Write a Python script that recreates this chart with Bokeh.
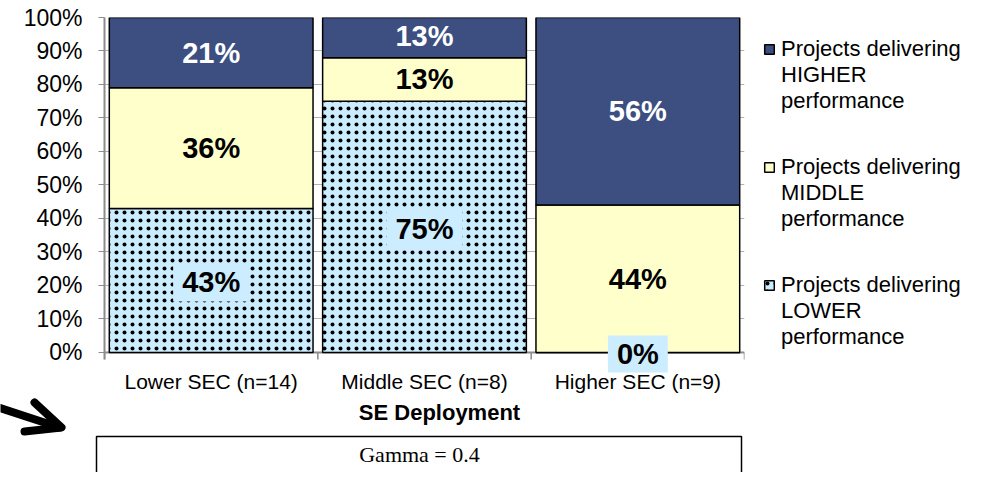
from bokeh.plotting import figure
from bokeh.layouts import column, row
from bokeh.models import (Range1d, FixedTicker, PrintfTickFormatter, Legend, LegendItem)
from bokeh.core.properties import value
from bokeh.embed import file_html
from bokeh.resources import INLINE

# ---- data ----
categories = ["Lower SEC (n=14)", "Middle SEC (n=8)", "Higher SEC (n=9)"]
lower_perf = [43, 75, 0]
middle_perf = [36, 13, 44]
higher_perf = [21, 13, 56]
legend_first = ["Projects delivering", "Projects delivering", "Projects delivering"]
legend_rest = ["HIGHER\nperformance", "MIDDLE\nperformance", "LOWER\nperformance"]
y_ticks = list(range(0, 101, 10))
x_axis_title = "SE Deployment"
gamma_text = "Gamma = 0.4"

DARK = "#3C4F80"
YELLOW = "#FFFFCC"
LIGHT = "#CCECFF"
AXIS = "#8C8C8C"
FONT = "Liberation Sans"

xs = [i + 0.5 for i in range(len(categories))]
bounds_x = list(range(len(categories) + 1))
mid_bottom = lower_perf
mid_top = [a + b for a, b in zip(lower_perf, middle_perf)]
high_top = [a + b for a, b in zip(mid_top, higher_perf)]

# ---------------- main chart ----------------
p = figure(frame_width=640, frame_height=355, min_border_left=104, min_border_right=244,
           min_border_top=17, min_border_bottom=24,
           x_range=Range1d(0, len(categories)), y_range=Range1d(-6, 100),
           output_backend="svg", toolbar_location=None)
p.outline_line_color = None
p.xgrid.visible = False
p.ygrid.grid_line_color = "#B3B3B3"
p.ygrid.grid_line_width = 1

# x axis line and boundary ticks at the 0 baseline
p.segment(x0=[0], x1=[len(categories)], y0=[0], y1=[0], line_color=AXIS, line_width=2)
p.segment(x0=bounds_x, x1=bounds_x, y0=[0] * len(bounds_x), y1=[-2.1] * len(bounds_x),
          line_color=AXIS, line_width=1.5)

W = 0.955
r_low = p.vbar(x=xs, bottom=0, top=lower_perf, width=W, fill_color=LIGHT,
               hatch_pattern="dot", hatch_color="black", hatch_scale=8, hatch_weight=3,
               line_color="black", line_width=1.5)
r_mid = p.vbar(x=xs, bottom=mid_bottom, top=mid_top, width=W, fill_color=YELLOW,
               line_color="black", line_width=1.5)
r_high = p.vbar(x=xs, bottom=mid_top, top=high_top, width=W, fill_color=DARK,
                line_color="black", line_width=1.5)
dummy = p.scatter(x=[], y=[], fill_alpha=0, line_alpha=0)

ya = p.yaxis[0]
ya.ticker = FixedTicker(ticks=y_ticks)
ya.formatter = PrintfTickFormatter(format="%d%%")
ya.bounds = (-2.1, 100)
ya.major_label_text_font = FONT
ya.major_label_text_font_size = "23px"
ya.major_label_text_color = "black"
ya.axis_line_color = AXIS
ya.axis_line_width = 2
ya.major_tick_line_color = AXIS
ya.major_tick_out = 6
ya.major_tick_in = 0
ya.minor_tick_line_color = None
ya.major_label_standoff = 16

xa = p.xaxis[0]
xa.ticker = FixedTicker(ticks=xs)
xa.major_label_overrides = {x: c for x, c in zip(xs, categories)}
xa.major_label_text_font = FONT
xa.major_label_text_font_size = "21px"
xa.major_label_text_color = "black"
xa.major_tick_line_color = None
xa.minor_tick_line_color = None
xa.major_tick_out = 0
xa.major_tick_in = 0
xa.minor_tick_out = 0
xa.axis_line_color = None
xa.major_label_standoff = -3

# value labels
low_c = [v / 2 for v in lower_perf]
mid_c = [b + v / 2 for b, v in zip(mid_bottom, middle_perf)]
high_c = [b + v / 2 for b, v in zip(mid_top, higher_perf)]
common = dict(text_align="center", text_baseline="middle", text_font=value(FONT),
              text_font_style="bold", text_font_size="29px")
p.text(x=xs, y=low_c, text=[f"{v}%" for v in lower_perf], text_color="black",
       background_fill_color=LIGHT, padding=(9, 3), y_offset=2, **common)
p.text(x=xs, y=mid_c, text=[f"{v}%" for v in middle_perf], text_color="black", **common)
p.text(x=xs, y=high_c, text=[f"{v}%" for v in higher_perf], text_color="white", **common)

# legend: swatch on the first line, remaining lines as a glyph-less item
items = []
renders = [r_high, r_mid, r_low]
for k in range(len(legend_first)):
    items.append(LegendItem(label=legend_first[k], renderers=[renders[k]]))
    items.append(LegendItem(label=legend_rest[k], renderers=[dummy]))
    if k < len(legend_first) - 1:
        items.append(LegendItem(label=" ", renderers=[dummy]))
        items.append(LegendItem(label=" ", renderers=[dummy]))
legend = Legend(items=items, location="top_left", border_line_color=None,
                background_fill_alpha=0, glyph_width=12, glyph_height=12,
                label_standoff=6, label_text_font=FONT, label_text_font_size="22px",
                label_text_color="black",
                label_height=20, spacing=0, padding=0, margin=19)
p.add_layout(legend, "right")

# ---------------- arrow (decoration, pixel coordinates) ----------------
pa = figure(frame_width=94, frame_height=76, min_border=0,
            x_range=Range1d(0, 94), y_range=Range1d(76, 0),
            x_axis_location=None, y_axis_location=None,
            output_backend="svg", toolbar_location=None)
pa.outline_line_color = None
pa.grid.visible = False
pa.multi_line(xs=[[-11, 59], [34, 61, 24]], ys=[[8, 31], [6, 31, 35]],
              line_color="black", line_width=8, line_cap="round", line_join="round")

# ---------------- axis title + gamma box ----------------
pg = figure(frame_width=690, frame_height=76, min_border_left=0, min_border_right=192,
            min_border_top=0, min_border_bottom=0,
            x_range=Range1d(0, 690), y_range=Range1d(76, 0),
            x_axis_location=None, y_axis_location=None,
            output_backend="svg", toolbar_location=None)
pg.outline_line_color = None
pg.grid.visible = False
pg.text(x=[345], y=[16], text=[x_axis_title], text_font=value(FONT),
        text_font_style="bold", text_font_size="22px", text_align="center",
        text_baseline="middle", text_color="black")
pg.quad(left=[2], right=[647], top=[40], bottom=[110], fill_color="white",
        line_color="black", line_width=1.5)
pg.text(x=[325], y=[58], text=[gamma_text], text_font=value("Liberation Serif"),
        text_font_size="22px", text_align="center", text_baseline="middle",
        text_color="black")

layout = column(p, row(pa, pg))
open("out.html", "w").write(file_html(layout, INLINE))
